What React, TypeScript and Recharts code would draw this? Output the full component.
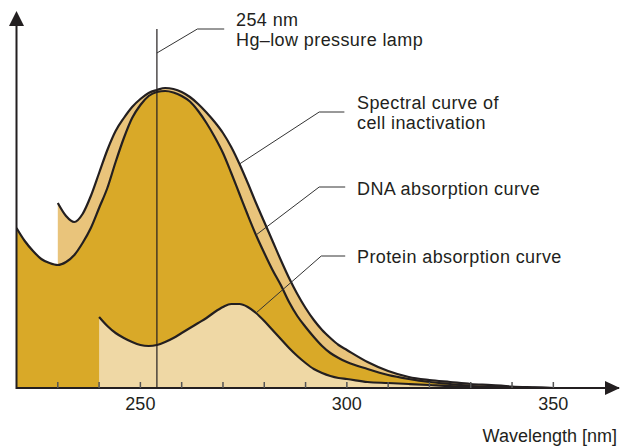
import { AreaChart, Area, XAxis, YAxis, ReferenceLine } from "recharts";

// wavelength grid in nm
const wavelengths = [
  220, 222, 224, 226, 228, 230, 232, 234, 236, 238, 240, 242, 244, 246, 248,
  250, 252, 254, 256, 258, 260, 262, 264, 266, 268, 270, 272, 274, 276, 278,
  280, 282, 284, 286, 288, 290, 292, 294, 296, 298, 300, 305, 310, 315, 320,
  325, 330, 335, 340, 345, 350,
];

// relative response (arbitrary units)
const spectral = [
  null, null, null, null, null, 185, 172, 166, 174, 192, 215, 238, 257, 270, 281,
  289, 295, 298, 300, 299, 296, 291, 284, 275.5, 266, 255, 241, 224, 205, 185,
  166, 147, 128, 110, 94, 80, 68, 58, 50, 43, 38, 26, 17, 11, 8,
  6, 4, 3, 1.5, 0.7, 0,
];

const dna = [
  160, 147, 137, 129, 125, 123, 126, 133, 145, 160, 180, 200, 226, 250, 270,
  283, 292, 296, 297, 295.5, 292, 286.5, 277, 265, 251, 235, 215, 194, 173, 153,
  135, 118, 103, 86, 72, 61, 51, 42, 35, 30, 26, 19, 13, 9, 6,
  4, 2, 1, 0.5, 0.2, 0,
];

const protein = [
  null, null, null, null, null, null, null, null, null, null, 71, 62, 55, 50, 46,
  43, 42, 43, 46, 50, 55, 60, 65, 70, 76, 81, 84, 84, 81, 75,
  67, 58, 49, 40, 32, 25, 19, 15, 12, 10, 9, 6, 5, 4, 3,
  2, 1.5, 1, 0.5, 0.2, 0,
];

const tickValues = [230, 240, 250, 260, 270, 280, 290, 300, 310, 320, 330, 340, 350];
const tickLabels = [250, 300, 350];

const data = wavelengths.map((nm, i) => ({
  nm,
  spectral: spectral[i],
  dna: dna[i],
  protein: protein[i],
}));

const ink = "#231f20";
const font = "'Liberation Sans', Arial, sans-serif";

function WaveTick(props: any) {
  const { x, y, payload } = props;
  const v = payload.value;
  return (
    <g>
      <line x1={x} x2={x} y1={y} y2={y - 6} stroke="#555" strokeWidth={1.5} />
      {tickLabels.includes(v) && (
        <text x={x} y={y + 22} textAnchor="middle" fontSize={18} fill={ink} fontFamily={font}>
          {v}
        </text>
      )}
    </g>
  );
}

const lbl = { fontSize: 18, fill: ink, fontFamily: font, letterSpacing: 0.4 };

export default function App() {
  const at = (nm: number, arr: (number | null)[]) => arr[wavelengths.indexOf(nm)] as number;
  const leader = (pts: { x: number; y: number }[], key: string) =>
    pts.slice(1).map((p, i) => (
      <ReferenceLine
        key={key + i}
        segment={[pts[i], p]}
        stroke="#333"
        strokeWidth={1}
        ifOverflow="visible"
      />
    ));

  return (
    <div style={{ position: "absolute", left: 0, top: 0, width: 621, height: 446, background: "#fff" }}>
      <AreaChart
        width={621}
        height={446}
        data={data}
        margin={{ top: 12, right: 2, bottom: 0, left: 16.5 }}
      >
        <XAxis
          dataKey="nm"
          type="number"
          domain={[220, 365.9]}
          ticks={tickValues}
          height={58}
          tickSize={0}
          tickMargin={0}
          tickLine={false}
          axisLine={{ stroke: ink, strokeWidth: 2 }}
          tick={<WaveTick />}
          allowDataOverflow
        />
        <YAxis type="number" domain={[0, 376]} hide allowDataOverflow />
        <Area
          type="monotone"
          dataKey="spectral"
          stroke={ink}
          strokeWidth={2.2}
          fill="#e9c47b"
          fillOpacity={1}
          connectNulls
          isAnimationActive={false}
        />
        <Area
          type="monotone"
          dataKey="dna"
          stroke={ink}
          strokeWidth={2.2}
          fill="#d9a928"
          fillOpacity={1}
          connectNulls
          isAnimationActive={false}
        />
        <Area
          type="monotone"
          dataKey="protein"
          stroke={ink}
          strokeWidth={2.2}
          fill="#efd8a5"
          fillOpacity={1}
          connectNulls
          isAnimationActive={false}
        />
        <ReferenceLine
          segment={[{ x: 254, y: 0 }, { x: 254, y: 359 }]}
          stroke={ink}
          strokeWidth={1.2}
          ifOverflow="visible"
        />
        {leader([{ x: 254, y: 335 }, { x: 263.8, y: 359 }, { x: 270.3, y: 359 }], "hg")}
        {leader([{ x: 274, y: at(274, spectral) }, { x: 293.3, y: 276 }, { x: 299.4, y: 276 }], "sp")}
        {leader([{ x: 278, y: at(278, dna) }, { x: 293.3, y: 201 }, { x: 299.6, y: 201 }], "dna")}
        {leader([{ x: 278, y: at(278, protein) }, { x: 293.8, y: 132 }, { x: 299.6, y: 132 }], "pr")}
      </AreaChart>
      <svg
        width={621}
        height={446}
        style={{ position: "absolute", left: 0, top: 0, pointerEvents: "none" }}
      >
        <line x1={16.5} x2={16.5} y1={24} y2={389} stroke={ink} strokeWidth={2} />
        <polygon points="9,26 24,26 16.5,11" fill={ink} />
        <polygon points="605,381 605,395 620,388" fill={ink} />
        <text x={236} y={26} {...lbl}>254 nm</text>
        <text x={236} y={46} {...lbl}>Hg–low pressure lamp</text>
        <text x={357} y={109} {...lbl}>Spectral curve of</text>
        <text x={357} y={129} {...lbl}>cell inactivation</text>
        <text x={357} y={195} {...lbl}>DNA absorption curve</text>
        <text x={357} y={263} {...lbl}>Protein absorption curve</text>
        <text x={617} y={442} textAnchor="end" fontSize={18} fill={ink} fontFamily={font}>
          Wavelength [nm]
        </text>
      </svg>
    </div>
  );
}
